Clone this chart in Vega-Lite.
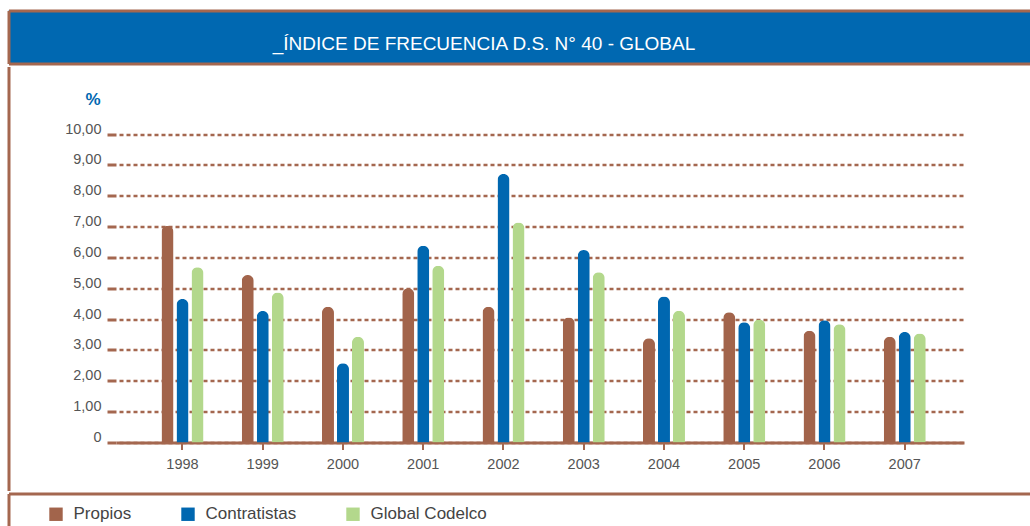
{
  "$schema": "https://vega.github.io/schema/vega-lite/v6.json",
  "padding": {"left": 5.5, "top": 10.5, "right": 0, "bottom": 0},
  "background": "white",
  "spacing": 0,
  "config": {
    "font": "Liberation Sans",
    "view": {"stroke": null},
    "axis": {"labelFont": "Liberation Sans", "titleFont": "Liberation Sans"},
    "legend": {"labelFont": "Liberation Sans"}
  },
  "vconcat": [
    {
      "width": 1023,
      "height": 53,
      "view": {"fill": "#0068B1", "stroke": null},
      "layer": [
        {
          "data": {"values": [{"t": "_ÍNDICE DE FRECUENCIA D.S. N° 40 - GLOBAL"}]},
          "mark": {"type": "text", "color": "#FFFFFF", "fontSize": 19, "baseline": "alphabetic", "align": "center", "dx": -36, "dy": 12.5},
          "encoding": {"text": {"field": "t", "type": "nominal"}}
        },
        {
          "data": {"values": [{"a": 0}]},
          "mark": {"type": "point", "opacity": 0},
          "encoding": {
            "x": {"field": "a", "type": "quantitative", "scale": {"domain": [0, 1]}, "axis": {"orient": "top", "domainColor": "#A4674F", "domainWidth": 3, "ticks": false, "labels": false, "grid": false, "title": null}},
            "y": {"field": "a", "type": "quantitative", "scale": {"domain": [0, 1]}, "axis": {"orient": "left", "domainColor": "#A4674F", "domainWidth": 3, "ticks": false, "labels": false, "grid": false, "title": null}}
          }
        },
        {
          "data": {"values": [{"a": 0}]},
          "mark": {"type": "point", "opacity": 0},
          "encoding": {
            "x": {"field": "a", "type": "quantitative", "scale": {"domain": [0, 1]}, "axis": {"orient": "bottom", "domainColor": "#A4674F", "domainWidth": 3, "ticks": false, "labels": false, "grid": false, "title": null}}
          }
        }
      ],
      "resolve": {"scale": {"x": "independent"}, "axis": {"x": "independent"}}
    },
    {
      "width": 1023,
      "height": 424,
      "layer": [
        {
          "data": {"values": [
            {"year": "1998", "series": "Propios", "value": 7.02},
            {"year": "1998", "series": "Contratistas", "value": 4.65},
            {"year": "1998", "series": "Global Codelco", "value": 5.68},
            {"year": "1999", "series": "Propios", "value": 5.43},
            {"year": "1999", "series": "Contratistas", "value": 4.26},
            {"year": "1999", "series": "Global Codelco", "value": 4.86},
            {"year": "2000", "series": "Propios", "value": 4.40},
            {"year": "2000", "series": "Contratistas", "value": 2.57},
            {"year": "2000", "series": "Global Codelco", "value": 3.43},
            {"year": "2001", "series": "Propios", "value": 5.00},
            {"year": "2001", "series": "Contratistas", "value": 6.38},
            {"year": "2001", "series": "Global Codelco", "value": 5.73},
            {"year": "2002", "series": "Propios", "value": 4.40},
            {"year": "2002", "series": "Contratistas", "value": 8.70},
            {"year": "2002", "series": "Global Codelco", "value": 7.13},
            {"year": "2003", "series": "Propios", "value": 4.05},
            {"year": "2003", "series": "Contratistas", "value": 6.24},
            {"year": "2003", "series": "Global Codelco", "value": 5.52},
            {"year": "2004", "series": "Propios", "value": 3.38},
            {"year": "2004", "series": "Contratistas", "value": 4.73},
            {"year": "2004", "series": "Global Codelco", "value": 4.27},
            {"year": "2005", "series": "Propios", "value": 4.22},
            {"year": "2005", "series": "Contratistas", "value": 3.90},
            {"year": "2005", "series": "Global Codelco", "value": 3.99},
            {"year": "2006", "series": "Propios", "value": 3.62},
            {"year": "2006", "series": "Contratistas", "value": 3.96},
            {"year": "2006", "series": "Global Codelco", "value": 3.83},
            {"year": "2007", "series": "Propios", "value": 3.43},
            {"year": "2007", "series": "Contratistas", "value": 3.58},
            {"year": "2007", "series": "Global Codelco", "value": 3.53}
          ]},
          "mark": {"type": "bar", "cornerRadiusTopLeft": 6, "cornerRadiusTopRight": 6},
          "encoding": {
            "x": {
              "field": "year", "type": "nominal",
              "scale": {"range": [107.5, 955.5], "paddingInner": 0.4766, "paddingOuter": 0.5218, "align": 0.543},
              "axis": {"title": null, "orient": "bottom", "offset": -48, "domainColor": "#A4674F", "domainWidth": 3, "tickColor": "#A4674F", "tickWidth": 2, "tickSize": 7, "labelAngle": 0, "labelFontSize": 14.5, "labelColor": "#555555", "labelPadding": 8, "grid": false}
            },
            "xOffset": {"field": "series", "type": "nominal", "sort": ["Propios", "Contratistas", "Global Codelco"], "scale": {"paddingInner": 0.2, "paddingOuter": 0}},
            "y": {
              "field": "value", "type": "quantitative",
              "scale": {"domain": [0, 10], "range": [376, 67.5], "nice": false},
              "axis": {
                "orient": "left", "offset": -107.5, "values": [0, 1, 2, 3, 4, 5, 6, 7, 8, 9, 10], "domain": false,
                "grid": true, "gridColor": "#A4674F", "gridDash": [4, 3], "gridDashOffset": 4, "gridWidth": 2.5,
                "tickColor": "#A4674F", "tickSize": 9, "tickWidth": 3,
                "labelFontSize": 14.5, "labelColor": "#555555", "labelPadding": 6, "labelBaseline": "alphabetic", "labelOffset": -1,
                "labelExpr": "datum.value == 0 ? '0' : replace(format(datum.value, '.2f'), '.', ',')",
                "title": "%", "titleAngle": 0, "titleX": -23.5, "titleY": 33, "titleAlign": "center", "titleBaseline": "middle",
                "titleColor": "#0068B1", "titleFontSize": 17, "titleFontWeight": "bold"
              }
            },
            "color": {
              "field": "series", "type": "nominal",
              "scale": {"domain": ["Propios", "Contratistas", "Global Codelco"], "range": ["#A2644B", "#0067B0", "#B3D88C"]},
              "legend": {"orient": "none", "legendX": 39, "legendY": 495, "direction": "horizontal", "title": null, "symbolType": "square", "symbolSize": 180, "symbolStrokeWidth": 0, "symbolOpacity": 1, "labelFontSize": 17, "labelColor": "#444444", "labelOffset": 9, "columnPadding": 48, "padding": 0}
            }
          }
        },
        {
          "data": {"values": [{"a": 0}]},
          "mark": {"type": "point", "opacity": 0},
          "encoding": {
            "y": {"field": "a", "type": "quantitative", "scale": {"domain": [0, 1]}, "axis": {"orient": "left", "offset": 0, "domainColor": "#A4674F", "domainWidth": 3, "ticks": false, "labels": false, "grid": false, "title": null}}
          }
        }
      ],
      "resolve": {"scale": {"y": "independent"}, "axis": {"y": "independent"}}
    },
    {
      "width": 1023,
      "height": 33,
      "data": {"values": [{"a": 0}]},
      "mark": {"type": "point", "opacity": 0},
      "encoding": {
        "x": {"field": "a", "type": "quantitative", "scale": {"domain": [0, 1]}, "axis": {"orient": "top", "domainColor": "#A4674F", "domainWidth": 3, "ticks": false, "labels": false, "grid": false, "title": null}},
        "y": {"field": "a", "type": "quantitative", "scale": {"domain": [0, 1]}, "axis": {"orient": "left", "domainColor": "#A4674F", "domainWidth": 3, "ticks": false, "labels": false, "grid": false, "title": null}}
      }
    }
  ]
}
